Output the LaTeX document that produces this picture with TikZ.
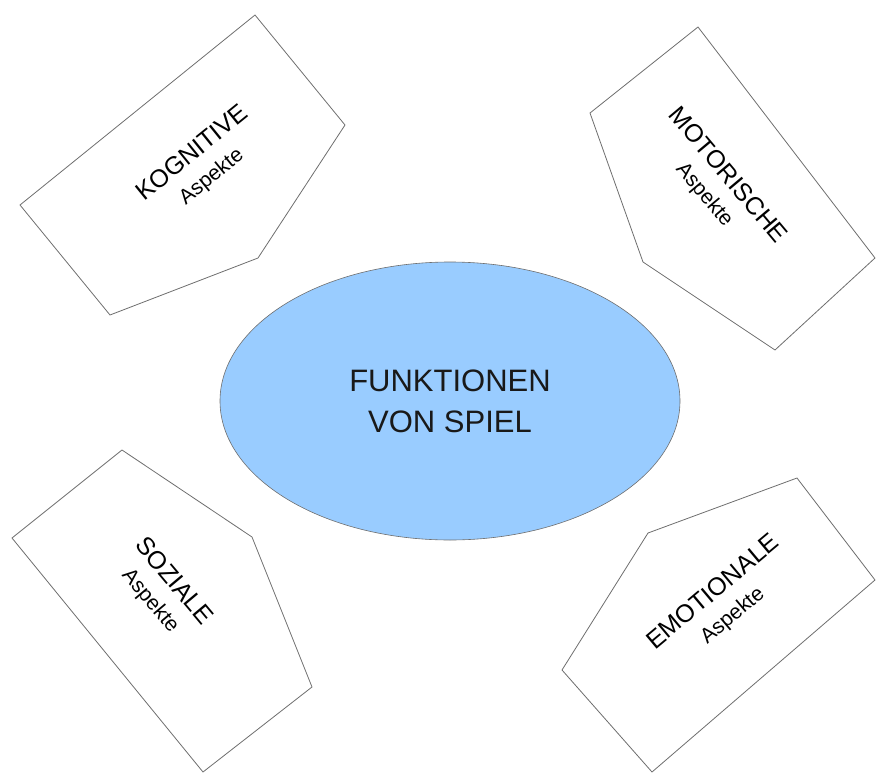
\documentclass[tikz,border=0pt]{standalone}
\usepackage{fontspec}
\setmainfont{Liberation Sans}
\usetikzlibrary{shapes.geometric}

\definecolor{spielblau}{RGB}{153,204,255}
\definecolor{rand}{RGB}{110,110,110}

\begin{document}
\begin{tikzpicture}[x=1pt, y=-1pt, line join=round]
    \tikzset{
        aspekt/.style={draw=rand, line width=0.8pt, fill=white},
        aspektlabel/.style={align=center, inner sep=0pt, text=black,
            font=\fontsize{25}{29}\selectfont}
    }
    \useasboundingbox (0,0) rectangle (876,774);

    % Mitte
    \node[ellipse, draw=rand, line width=0.6pt, fill=spielblau,
          minimum width=460pt, minimum height=278pt, align=center,
          font=\fontsize{31}{41}\selectfont, text=black!90] (spiel) at (450,401)
          {FUNKTIONEN\\VON SPIEL};

    % die vier Aspekte
    \draw[aspekt] (255,15) -- (345,125) -- (258,258) -- (110,315) -- (20,205) -- cycle;
    \draw[aspekt] (698,27) -- (875,258) -- (775,350) -- (643,262) -- (590,113) -- cycle;
    \draw[aspekt] (122,450) -- (252,537) -- (312,687) -- (203,772) -- (12,538) -- cycle;
    \draw[aspekt] (797,478) -- (875,580) -- (652,772) -- (562,670) -- (648,533) -- cycle;

    \foreach \pos/\ang/\name/\txt in {{(202,165)}/39/kog/KOGNITIVE, {(716,185)}/-50/mot/MOTORISCHE,
                                      {(162,591)}/-50/soz/SOZIALE, {(723,604)}/40/emo/EMOTIONALE}
        \node[aspektlabel, rotate=\ang] (\name) at \pos
            {\txt\\{\fontsize{21}{29}\selectfont Aspekte}};
\end{tikzpicture}
\end{document}
